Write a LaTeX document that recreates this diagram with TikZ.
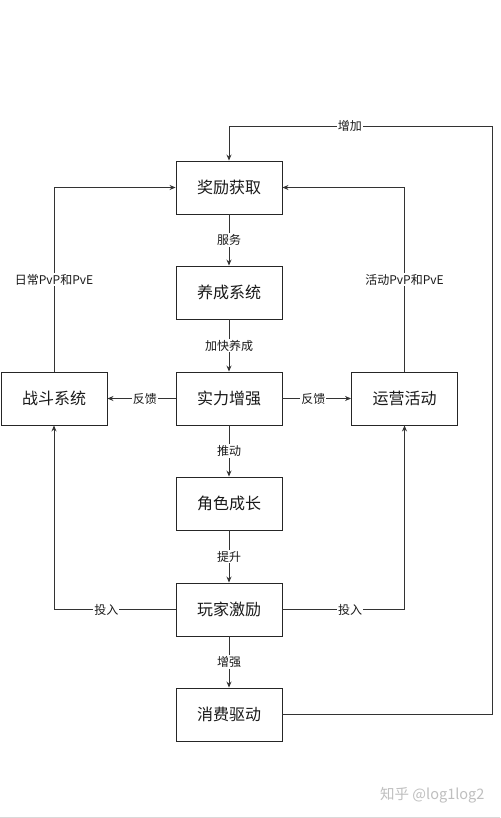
\documentclass[tikz,border=0pt]{standalone}
\usepackage{fontspec}
\setmainfont{Noto Sans CJK SC}
\usetikzlibrary{arrows.meta}
\begin{document}
\begin{tikzpicture}[x=1pt,y=-1pt,
  box/.style={draw=black!85,line width=0.9pt,minimum width=106pt,minimum height=53pt,inner sep=0pt,font=\fontsize{16}{16}\selectfont,text=black!90},
  conn/.style={draw=black!80,line width=0.9pt,-{Stealth[length=6pt,width=5pt]}},
  lab/.style={fill=white,inner sep=1pt,font=\fontsize{12}{12}\selectfont,text=black!90}]
\useasboundingbox (0,0) rectangle (500,818);
\fill[white] (0,0) rectangle (500,818);
\node[box] (reward) at (229,187.5) {奖励获取};
\node[box] (grow) at (229,292.5) {养成系统};
\node[box] (power) at (229,398.5) {实力增强};
\node[box] (role) at (229,503.5) {角色成长};
\node[box] (player) at (229,609.5) {玩家激励};
\node[box] (spend) at (229,714.5) {消费驱动};
\node[box] (battle) at (54,398.5) {战斗系统};
\node[box] (ops) at (404.5,398.5) {运营活动};
\coordinate (tl) at (54,187.5);
\coordinate (tr) at (404.5,187.5);
\coordinate (bl) at (54,609.5);
\coordinate (br) at (404.5,609.5);
\coordinate (or1) at (492,714.5);
\coordinate (or2) at (492,126);
\coordinate (ot) at (229,126);
% vertical chain
\draw[conn] (reward) -- node[lab]{服务} (grow);
\draw[conn] (grow) -- node[lab]{加快养成} (power);
\draw[conn] (power) -- node[lab]{推动} (role);
\draw[conn] (role) -- node[lab]{提升} (player);
\draw[conn] (player) -- node[lab]{增强} (spend);
% feedback
\draw[conn] (power) -- node[lab,pos=0.45]{反馈} (battle);
\draw[conn] (power) -- node[lab,pos=0.45]{反馈} (ops);
% side loops
\draw[conn] (battle.north) -- node[lab,pos=0.5]{日常PvP和PvE} (tl) -- (reward.west);
\draw[conn] (ops.north) -- node[lab,pos=0.5]{活动PvP和PvE} (tr) -- (reward.east);
\draw[conn] (player.west) -- node[lab,pos=0.57]{投入} (bl) -- (battle.south);
\draw[conn] (player.east) -- node[lab,pos=0.555]{投入} (br) -- (ops.south);
% outer loop
\draw[conn] (spend.east) -- (or1) -- (or2) -- node[lab,pos=0.54]{增加} (ot) -- (reward.north);
% watermark
\node[font=\fontsize{14.5}{14.5}\selectfont,text=black!25,anchor=east] (wm) at (488,795) {知乎 @log1log2};
\draw[black!15,line width=1pt] (0,817) -- (500,817);
\end{tikzpicture}
\end{document}
